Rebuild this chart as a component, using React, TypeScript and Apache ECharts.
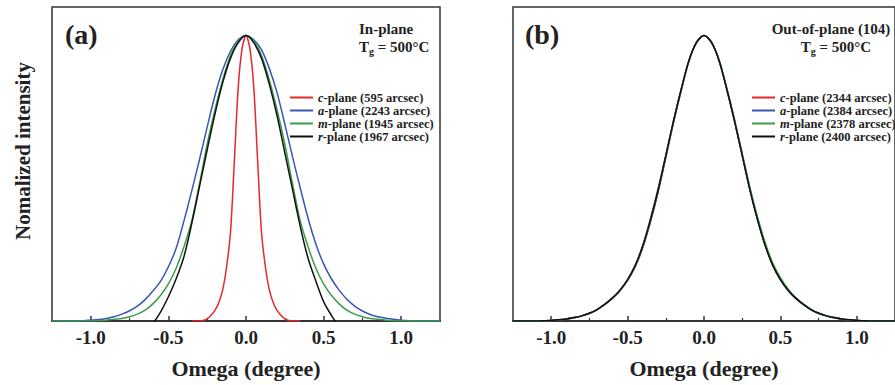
import React, { useEffect, useRef } from 'react';
import * as echarts from 'echarts';

// ---------- data ----------
const xGrid = [-1.25, -1.2, -1.15, -1.1, -1.05, -1, -0.95, -0.9, -0.85, -0.8, -0.75, -0.7, -0.65, -0.6, -0.55, -0.5, -0.45, -0.4, -0.35, -0.3, -0.25, -0.2, -0.15, -0.1, -0.05, 0, 0.05, 0.1, 0.15, 0.2, 0.25, 0.3, 0.35, 0.4, 0.45, 0.5, 0.55, 0.6, 0.65, 0.7, 0.75, 0.8, 0.85, 0.9, 0.95, 1, 1.05, 1.1, 1.15, 1.2, 1.25];
const xRedA = [-0.35, -0.325, -0.3, -0.275, -0.25, -0.225, -0.2, -0.175, -0.15, -0.125, -0.1, -0.075, -0.05, -0.025, 0, 0.025, 0.05, 0.075, 0.1, 0.125, 0.15, 0.175, 0.2, 0.225, 0.25, 0.275, 0.3, 0.325, 0.35];
const xBlackA = [-0.6, -0.55, -0.5, -0.45, -0.4, -0.35, -0.3, -0.25, -0.2, -0.15, -0.1, -0.05, 0, 0.05, 0.1, 0.15, 0.2, 0.25, 0.3, 0.35, 0.4, 0.45, 0.5, 0.55, 0.6];

// (a) In-plane
const cPlaneA = [0, 0, 0, 0.002, 0.008, 0.02, 0.037, 0.065, 0.11, 0.19, 0.31, 0.56, 0.82, 0.955, 1.0, 0.955, 0.82, 0.56, 0.31, 0.19, 0.11, 0.065, 0.037, 0.02, 0.008, 0.002, 0, 0, 0];
const aPlaneA = [0, 0, 0, 0, 0.001, 0.003, 0.005, 0.009, 0.015, 0.024, 0.036, 0.052, 0.075, 0.105, 0.14, 0.19, 0.255, 0.35, 0.455, 0.565, 0.68, 0.79, 0.88, 0.945, 0.985, 1.0, 0.985, 0.95, 0.885, 0.8, 0.69, 0.575, 0.465, 0.36, 0.27, 0.2, 0.148, 0.108, 0.076, 0.052, 0.035, 0.023, 0.015, 0.01, 0.006, 0.003, 0.001, 0, 0, 0, 0];
const mPlaneA = [0, 0, 0, 0, 0, 0, 0.001, 0.003, 0.006, 0.009, 0.015, 0.024, 0.038, 0.06, 0.09, 0.13, 0.185, 0.26, 0.35, 0.48, 0.62, 0.74, 0.845, 0.93, 0.98, 1.0, 0.98, 0.93, 0.845, 0.74, 0.62, 0.48, 0.35, 0.26, 0.185, 0.13, 0.09, 0.06, 0.038, 0.024, 0.015, 0.009, 0.006, 0.003, 0.001, 0, 0, 0, 0, 0, 0];
const rPlaneA = [-0.01, 0.032, 0.085, 0.148, 0.225, 0.34, 0.47, 0.6, 0.725, 0.835, 0.92, 0.975, 1.0, 0.975, 0.92, 0.83, 0.72, 0.59, 0.46, 0.33, 0.22, 0.14, 0.068, 0.02, -0.02];

// (b) Out-of-plane (104)
const cPlaneB = [0, 0, 0, 0, 0.001, 0.002, 0.004, 0.007, 0.012, 0.018, 0.027, 0.04, 0.058, 0.08, 0.106, 0.142, 0.19, 0.258, 0.348, 0.452, 0.572, 0.693, 0.805, 0.908, 0.974, 1.0, 0.975, 0.91, 0.81, 0.7, 0.58, 0.46, 0.355, 0.265, 0.195, 0.145, 0.108, 0.08, 0.058, 0.04, 0.027, 0.018, 0.012, 0.007, 0.004, 0.002, 0.001, 0, 0, 0, 0];
const aPlaneB = [0, 0, 0, 0, 0.001, 0.002, 0.004, 0.007, 0.012, 0.018, 0.027, 0.04, 0.058, 0.08, 0.107, 0.143, 0.193, 0.26, 0.35, 0.455, 0.575, 0.697, 0.808, 0.909, 0.975, 1.0, 0.975, 0.91, 0.81, 0.7, 0.582, 0.463, 0.358, 0.268, 0.197, 0.146, 0.108, 0.08, 0.058, 0.04, 0.027, 0.018, 0.012, 0.007, 0.004, 0.002, 0.001, 0, 0, 0, 0];
const mPlaneB = [0, 0, 0, 0, 0.001, 0.002, 0.004, 0.007, 0.012, 0.018, 0.027, 0.04, 0.058, 0.08, 0.108, 0.145, 0.195, 0.265, 0.36, 0.465, 0.58, 0.7, 0.81, 0.91, 0.975, 1.0, 0.976, 0.912, 0.815, 0.706, 0.588, 0.47, 0.365, 0.275, 0.203, 0.152, 0.112, 0.082, 0.06, 0.041, 0.028, 0.019, 0.012, 0.007, 0.004, 0.002, 0.001, 0, 0, 0, 0];
const rPlaneB = [0, 0, 0, 0, 0.001, 0.002, 0.004, 0.007, 0.012, 0.018, 0.027, 0.04, 0.058, 0.08, 0.108, 0.145, 0.195, 0.265, 0.355, 0.46, 0.58, 0.7, 0.81, 0.91, 0.975, 1.0, 0.975, 0.91, 0.81, 0.7, 0.58, 0.46, 0.355, 0.265, 0.195, 0.145, 0.108, 0.08, 0.058, 0.04, 0.027, 0.018, 0.012, 0.007, 0.004, 0.002, 0.001, 0, 0, 0, 0];

const namesA = ['c-plane (595 arcsec)', 'a-plane (2243 arcsec)', 'm-plane (1945 arcsec)', 'r-plane (1967 arcsec)'];
const namesB = ['c-plane (2344 arcsec)', 'a-plane (2384 arcsec)', 'm-plane (2378 arcsec)', 'r-plane (2400 arcsec)'];
const majorTicks = [-1, -0.5, 0, 0.5, 1];
const minorTicks = [-0.75, -0.25, 0.25, 0.75];
const xTitle = 'Omega (degree)';
const yTitle = 'Nomalized intensity';

// ---------- style ----------
const FONT = '"Liberation Serif", "Times New Roman", serif';
const COLORS = ['#e8262b', '#3a55b4', '#3a9d48', '#111111'];
const AXIS_COLOR = '#333333';
const TEXT_COLOR = '#222222';
const LEG_SIZE = 12.5;
const LEG_LH = 12.5;

const zip = (xs: number[], ys: number[]) => xs.map((x, i) => [x, ys[i]]);

function buildOption() {
  const grids = [
    { left: 52, top: 7, width: 388, height: 314 },
    { left: 513, top: 7, width: 388, height: 314 },
  ].map((g) => ({ ...g, show: true, borderColor: AXIS_COLOR, borderWidth: 1.5, backgroundColor: 'transparent' }));

  const xAxes: any[] = [];
  const yAxes: any[] = [];
  [0, 1].forEach((gi) => {
    xAxes.push({
      type: 'value',
      gridIndex: gi,
      position: 'bottom',
      min: -1.25,
      max: 1.25,
      interval: 0.25,
      name: xTitle,
      nameLocation: 'middle',
      nameGap: 36,
      nameTextStyle: { fontFamily: FONT, fontWeight: 'bold', fontSize: 22, color: TEXT_COLOR },
      axisLine: { show: true, lineStyle: { color: AXIS_COLOR, width: 2 } },
      axisTick: { show: true, inside: true, length: 5, customValues: majorTicks, lineStyle: { color: AXIS_COLOR, width: 1.5 } },
      axisLabel: {
        show: true,
        customValues: majorTicks,
        margin: 7,
        formatter: (v: number) => v.toFixed(1),
        fontFamily: FONT,
        fontWeight: 'bold',
        fontSize: 19,
        color: TEXT_COLOR,
      },
      splitLine: { show: false },
    });
    xAxes.push({
      type: 'value',
      gridIndex: gi,
      position: 'bottom',
      min: -1.25,
      max: 1.25,
      interval: 0.25,
      axisLine: { show: false },
      axisTick: { show: true, inside: true, length: 3, customValues: minorTicks, lineStyle: { color: AXIS_COLOR, width: 1.2 } },
      axisLabel: { show: false },
      splitLine: { show: false },
    });
    yAxes.push({
      type: 'value',
      gridIndex: gi,
      min: 0,
      max: 1.1,
      axisLine: { show: false },
      axisTick: { show: false },
      axisLabel: { show: false },
      splitLine: { show: false },
    });
  });

  const lineSeries = (name: string, data: number[][], color: string, axisIdx: number) => ({
    type: 'line',
    name,
    data,
    xAxisIndex: axisIdx * 2,
    yAxisIndex: axisIdx,
    showSymbol: false,
    symbol: 'none',
    smooth: 0.3,
    clip: true,
    lineStyle: { color, width: 1.5 },
    itemStyle: { color },
    emphasis: { disabled: true },
  });

  const series = [
    lineSeries(namesA[0], zip(xRedA, cPlaneA), COLORS[0], 0),
    lineSeries(namesA[1], zip(xGrid, aPlaneA), COLORS[1], 0),
    lineSeries(namesA[2], zip(xGrid, mPlaneA), COLORS[2], 0),
    lineSeries(namesA[3], zip(xBlackA, rPlaneA), COLORS[3], 0),
    lineSeries(namesB[0], zip(xGrid, cPlaneB), COLORS[0], 1),
    lineSeries(namesB[1], zip(xGrid, aPlaneB), COLORS[1], 1),
    lineSeries(namesB[2], zip(xGrid, mPlaneB), COLORS[2], 1),
    lineSeries(namesB[3], zip(xGrid, rPlaneB), COLORS[3], 1),
  ];

  const legendText = {
    fontFamily: FONT,
    fontWeight: 'bold',
    fontSize: LEG_SIZE,
    color: TEXT_COLOR,
    lineHeight: LEG_LH,
    rich: {
      i: { fontFamily: FONT, fontWeight: 'bold', fontStyle: 'italic', fontSize: LEG_SIZE, color: TEXT_COLOR, lineHeight: LEG_LH },
      n: { fontFamily: FONT, fontWeight: 'bold', fontSize: LEG_SIZE, color: TEXT_COLOR, lineHeight: LEG_LH },
    },
  };
  const legendBase = {
    orient: 'vertical',
    icon: 'rect',
    itemWidth: 23,
    itemHeight: 2,
    itemGap: 0,
    padding: 0,
    selectedMode: false,
    formatter: (name: string) => `{i|${name.charAt(0)}}{n|${name.slice(1)}}`,
    textStyle: legendText,
  };
  const legends = [
    { ...legendBase, left: 290, top: 91, data: namesA },
    { ...legendBase, left: 752, top: 91, data: namesB },
  ];

  const boldText = (text: string, x: number, y: number, size: number, align = 'left') => ({
    type: 'text',
    x,
    y,
    silent: true,
    style: {
      text,
      font: `bold ${size}px ${FONT}`,
      fill: TEXT_COLOR,
      align,
      verticalAlign: 'middle',
    },
  });
  const tgText = (x: number, y: number, align = 'left') => ({
    type: 'text',
    x,
    y,
    silent: true,
    style: {
      text: '{t|T}{s|g}{t| = 500°C}',
      align,
      verticalAlign: 'middle',
      fill: TEXT_COLOR,
      rich: {
        t: { font: `bold 15px ${FONT}`, fill: TEXT_COLOR, lineHeight: 18, verticalAlign: 'middle' },
        s: { font: `bold 10px ${FONT}`, fill: TEXT_COLOR, lineHeight: 18, verticalAlign: 'bottom' },
      },
    },
  });

  const graphic = [
    boldText('(a)', 65, 34, 28),
    boldText('(b)', 525, 34, 28),
    boldText('In-plane', 359, 29, 15),
    tgText(359, 47),
    boldText('Out-of-plane (104)', 831, 29, 15, 'center'),
    tgText(836, 47, 'center'),
    {
      type: 'text',
      x: 23,
      y: 151,
      rotation: Math.PI / 2,
      silent: true,
      style: {
        text: yTitle,
        font: `bold 21px ${FONT}`,
        fill: TEXT_COLOR,
        align: 'center',
        verticalAlign: 'middle',
      },
    },
  ];

  return {
    animation: false,
    backgroundColor: '#ffffff',
    grid: grids,
    xAxis: xAxes,
    yAxis: yAxes,
    legend: legends,
    series,
    graphic,
  };
}

export default function App() {
  const ref = useRef<HTMLDivElement>(null);
  useEffect(() => {
    if (!ref.current) return;
    const chart = echarts.init(ref.current, undefined, { renderer: 'svg' });
    chart.setOption(buildOption() as any);
    return () => chart.dispose();
  }, []);
  return (
    <div
      ref={ref}
      style={{ position: 'fixed', left: 0, top: 0, width: 895, height: 385, background: '#fff', overflow: 'hidden' }}
    />
  );
}
